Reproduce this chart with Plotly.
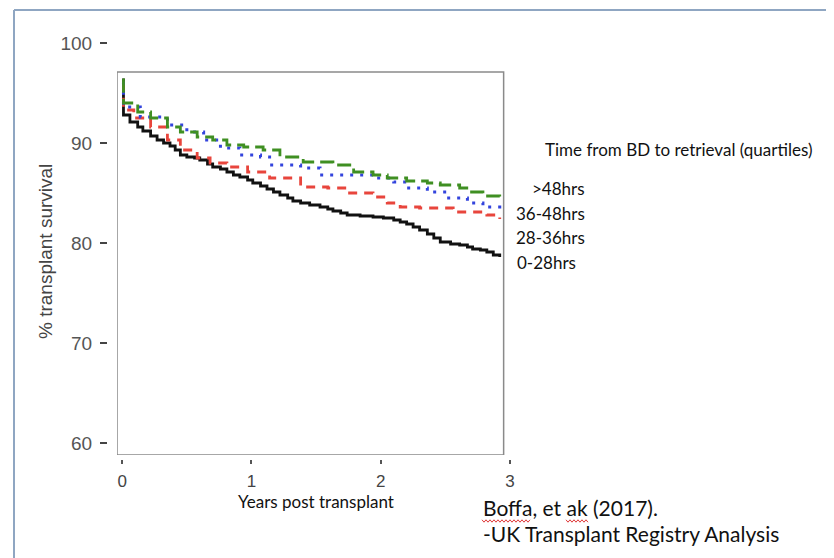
import plotly.graph_objects as go

# ---------------- data ----------------
years_0_28 = [0, 0.01, 0.06, 0.12, 0.16, 0.22, 0.27, 0.32, 0.37, 0.41, 0.45, 0.50, 0.56, 0.60, 0.66, 0.70,
              0.76, 0.81, 0.86, 0.91, 0.97, 1.01, 1.07, 1.12, 1.17, 1.22, 1.28, 1.32, 1.38, 1.45, 1.53,
              1.59, 1.63, 1.69, 1.74, 1.84, 1.94, 2.02, 2.10, 2.15, 2.20, 2.25, 2.30, 2.36, 2.41, 2.46,
              2.54, 2.61, 2.67, 2.71, 2.77, 2.82, 2.87, 2.92]
surv_0_28 = [96.3, 92.8, 92.1, 91.6, 91.2, 90.7, 90.3, 90.0, 89.7, 89.3, 88.8, 88.6, 88.5, 88.3, 87.9, 87.6,
             87.4, 87.1, 86.8, 86.6, 86.3, 86.0, 85.7, 85.4, 85.1, 84.8, 84.5, 84.2, 84.0, 83.8, 83.6,
             83.4, 83.2, 83.0, 82.8, 82.7, 82.6, 82.5, 82.3, 82.1, 81.9, 81.6, 81.3, 80.9, 80.5, 80.1,
             79.9, 79.8, 79.6, 79.4, 79.3, 79.1, 78.8, 78.6]

years_28_36 = [0, 0.01, 0.09, 0.22, 0.35, 0.45, 0.58, 0.68, 0.81, 0.97, 1.14, 1.38, 1.59, 1.74, 1.94, 2.05, 2.15, 2.30, 2.56, 2.71, 2.82, 2.92]
surv_28_36 = [96.0, 93.3, 92.5, 91.6, 90.3, 89.3, 88.5, 88.0, 87.6, 87.1, 86.5, 85.6, 85.5, 85.0, 84.6, 84.0, 83.6, 83.5, 83.1, 83.1, 82.8, 82.4]

years_36_48 = [0, 0.01, 0.14, 0.35, 0.50, 0.63, 0.76, 0.91, 1.07, 1.14, 1.38, 1.53, 1.94, 2.10, 2.20, 2.36, 2.51, 2.67, 2.79, 2.92]
surv_36_48 = [96.0, 93.6, 92.6, 91.8, 91.1, 90.3, 89.5, 88.8, 88.6, 87.8, 87.5, 86.8, 86.5, 86.1, 85.5, 85.1, 84.5, 84.0, 83.6, 83.1]

years_48 = [0, 0.01, 0.12, 0.22, 0.35, 0.45, 0.58, 0.70, 0.81, 0.94, 1.09, 1.22, 1.40, 1.63, 1.79, 1.94, 2.05, 2.20, 2.36, 2.46, 2.61, 2.69, 2.79, 2.92]
surv_48 = [96.3, 94.0, 93.1, 92.5, 91.6, 91.1, 90.6, 90.3, 89.8, 89.6, 89.3, 88.6, 88.1, 87.8, 87.1, 86.8, 86.5, 86.2, 86.0, 85.8, 85.5, 85.1, 84.7, 84.1]

x_ticks = [0, 1, 2, 3]
y_ticks = [60, 70, 80, 90, 100]
group_labels = [">48hrs", "36-48hrs", "28-36hrs", "0-28hrs"]

# ---------------- geometry helpers (screen px; page body has an 8px offset) ----------------
OFF = 8
W, H = 834 - OFF, 558 - OFF
L, R, T, B = 107, 511, 43, 459  # plot area in screen px
PW, PH = R - L, B - T


def px(x):
    return (x - L) / PW


def py(y):
    return (B - y) / PH


fig = go.Figure()

series = [
    (years_0_28, surv_0_28, "#111111", "solid", 2.8, "0-28hrs"),
    (years_28_36, surv_28_36, "#e8453c", "9px,7px", 2.8, "28-36hrs"),
    (years_36_48, surv_36_48, "#3344dd", "3px,7px", 3.0, "36-48hrs"),
    (years_48, surv_48, "#3f8f22", "14px,6px", 2.8, ">48hrs"),
]
for xs, ys, col, dash, w, name in series:
    fig.add_trace(go.Scatter(x=xs, y=ys, mode="lines", line=dict(color=col, dash=dash, width=w, shape="hv"),
                             name=name, showlegend=False, hoverinfo="skip"))

fig.update_layout(
    width=W, height=H,
    margin=dict(l=L - OFF, r=834 - R, t=T - OFF, b=558 - B),
    paper_bgcolor="white", plot_bgcolor="white",
    showlegend=False,
    xaxis=dict(domain=[px(117), 1], range=[-0.04, 3.007], tickvals=x_ticks, ticks="outside", ticklen=4,
               tickwidth=2, tickcolor="#555", showline=False, showgrid=False, zeroline=False,
               anchor="free", position=0, ticklabelstandoff=3,
               tickfont=dict(family="Liberation Sans", size=17, color="#444")),
    yaxis=dict(domain=[py(455), 1], range=[58.8, 100.0], tickvals=y_ticks, ticks="outside", ticklen=7,
               tickwidth=2, tickcolor="#444", showline=False, showgrid=False, zeroline=False,
               anchor="free", position=0, ticklabelstandoff=4,
               tickfont=dict(family="Liberation Sans", size=19, color="#555")),
)

# plot box
fig.add_shape(type="rect", xref="x", yref="y", x0=-0.04, x1=2.95, y0=58.8, y1=97.1,
              line=dict(color="#8a8a8a", width=1.5), layer="below")

# outer frame (top and left)
fig.add_shape(type="line", xref="paper", yref="paper", x0=px(14), x1=px(840), y0=py(10), y1=py(10),
              line=dict(color="#8fa6c2", width=2))
fig.add_shape(type="line", xref="paper", yref="paper", x0=px(14), x1=px(14), y0=py(10), y1=py(570),
              line=dict(color="#8fa6c2", width=2))

CAL = "Lato"


def ann(text, x, y, size, xanchor="left", color="#111", family=CAL, angle=0):
    fig.add_annotation(text=text, x=px(x), y=py(y), xref="paper", yref="paper", showarrow=False,
                       xanchor=xanchor, yanchor="middle", textangle=angle,
                       font=dict(family=family, size=size, color=color))


ann("% transplant survival", 45, 252, 19, xanchor="center", color="#444", family="Liberation Sans", angle=-90)
ann("Years post transplant", 316, 501, 17, xanchor="center")
ann("Time from BD to retrieval (quartiles)", 543, 149, 17)
label_pos = [(587, 188, "right"), (587, 213, "right"), (587, 237, "right"), (515, 262, "left")]
for lab, (lx, ly, anc) in zip(group_labels, label_pos):
    ann(lab, lx, ly, 17, xanchor=anc)
ann("Boffa, et ak (2017).", 481, 507, 21)
ann("-UK Transplant Registry Analysis", 481, 533, 21)


def squiggle(x0, x1, y):
    pts = []
    x = x0
    up = True
    while x <= x1:
        pts.append((x, y - 1.2 if up else y + 1.2))
        up = not up
        x += 2
    d = "M " + " L ".join(f"{px(a):.5f},{py(b):.5f}" for a, b in pts)
    fig.add_shape(type="path", xref="paper", yref="paper", path=d, line=dict(color="#e03a3a", width=1))


squiggle(482, 530, 521)
squiggle(566, 588, 521)

fig.write_html("out.html")
